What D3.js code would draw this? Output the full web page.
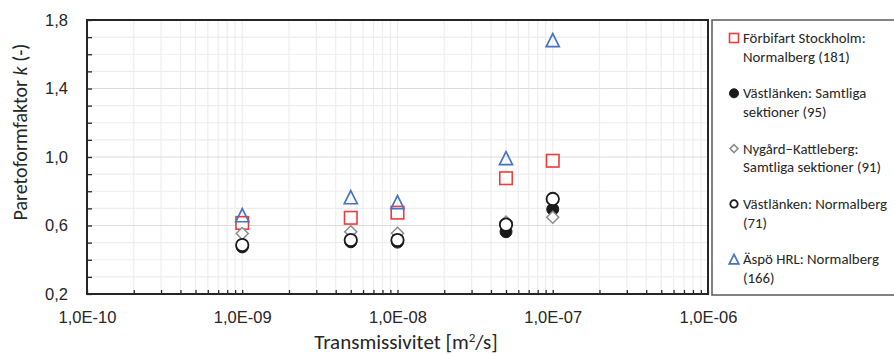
<!DOCTYPE html>
<html>
<head>
<meta charset="utf-8">
<script src="https://cdn.jsdelivr.net/npm/d3@7"></script>
<style>
  html, body { margin: 0; padding: 0; background: #fff; }
  svg { display: block; font-family: Carlito, Calibri, Lato, "Open Sans", sans-serif; }
</style>
</head>
<body>
<svg id="chart" width="894" height="354"></svg>
<script>
// Transmissivity classes (m²/s) and Pareto shape factor k per data set
const transmissivity = [1e-9, 5e-9, 1e-8, 5e-8, 1e-7];
const forbifart      = [0.615, 0.645, 0.675, 0.876, 0.978];
const vastlankenAll  = [0.475, 0.505, 0.503, 0.564, 0.695];
const nygard         = [0.553, 0.563, 0.555, 0.620, 0.648];
const vastlankenNorm = [0.486, 0.515, 0.515, 0.605, 0.755];
const aspo           = [0.660, 0.765, 0.737, 0.993, 1.683];

const seriesNames = [
  ["Förbifart Stockholm:", "Normalberg (181)"],
  ["Västlänken: Samtliga", "sektioner (95)"],
  ["Nygård\u2212Kattleberg:", "Samtliga sektioner (91)"],
  ["Västlänken: Normalberg", "(71)"],
  ["Äspö HRL: Normalberg", "(166)"]
];

const xTickValues = [1e-10, 1e-9, 1e-8, 1e-7, 1e-6];
const xTickLabels = ["1,0E-10", "1,0E-09", "1,0E-08", "1,0E-07", "1,0E-06"];
const yTickValues = [0.2, 0.6, 1.0, 1.4, 1.8];
const yTickLabels = ["0,2", "0,6", "1,0", "1,4", "1,8"];

const svg = d3.select("#chart");
const plot = { left: 87, right: 708, top: 20, bottom: 294 };

const x = d3.scaleLog().domain([1e-10, 1e-6]).range([plot.left, plot.right]);
const y = d3.scaleLinear().domain([0.2, 1.8]).range([plot.bottom, plot.top]);

// minor log positions 1..9 × each decade
const xMinor = [];
for (let e = -10; e < -6; e++) for (let m = 1; m <= 9; m++) xMinor.push(m * Math.pow(10, e));
xMinor.push(1e-6);
const yMinor = d3.range(2, 19).map(v => v / 10);

// gridlines
const grid = svg.append("g");
grid.selectAll("line.v").data(xMinor).join("line")
  .attr("x1", d => x(d)).attr("x2", d => x(d))
  .attr("y1", plot.top).attr("y2", plot.bottom)
  .attr("stroke", "#eeeeee").attr("stroke-width", 1.2);
grid.selectAll("line.h").data(yMinor).join("line")
  .attr("x1", plot.left).attr("x2", plot.right)
  .attr("y1", d => y(d)).attr("y2", d => y(d))
  .attr("stroke", d => yTickValues.some(t => Math.abs(t - d) < 1e-9) ? "#dcdcdc" : "#ededed")
  .attr("stroke-width", 1.2);

// axes (ticks point inward)
const xAxis = d3.axisBottom(x).tickValues(xMinor).tickSizeInner(-4).tickSizeOuter(0)
  .tickPadding(17)
  .tickFormat(d => { const i = xTickValues.findIndex(t => Math.abs(t - d) / t < 1e-6); return i >= 0 ? xTickLabels[i] : ""; });
const gx = svg.append("g").attr("transform", `translate(0,${plot.bottom})`).call(xAxis);
gx.select(".domain").remove();
gx.selectAll(".tick line").attr("stroke", "#262626").attr("stroke-width", 1.3);
gx.selectAll("text").attr("font-size", 16.5).attr("fill", "#262626").attr("font-family", null);

const yAxis = d3.axisLeft(y).tickValues(yMinor).tickSizeInner(-5).tickSizeOuter(0)
  .tickPadding(19)
  .tickFormat(d => { const i = yTickValues.findIndex(t => Math.abs(t - d) < 1e-9); return i >= 0 ? yTickLabels[i] : ""; });
const gy = svg.append("g").attr("transform", `translate(${plot.left},0)`).call(yAxis);
gy.select(".domain").remove();
gy.selectAll(".tick line").attr("stroke", "#262626").attr("stroke-width", 1.3);
gy.selectAll("text").attr("font-size", 16.5).attr("fill", "#262626").attr("font-family", null);

// plot frame
svg.append("rect")
  .attr("x", plot.left).attr("y", plot.top)
  .attr("width", plot.right - plot.left).attr("height", plot.bottom - plot.top)
  .attr("fill", "none").attr("stroke", "#262626").attr("stroke-width", 2);

// marker shapes
function marker(sel, kind, size) {
  const s = size;
  if (kind === "square") {
    sel.append("rect").attr("x", -s / 2).attr("y", -s / 2).attr("width", s).attr("height", s)
      .attr("fill", "#fff").attr("stroke", "#ee3b3b").attr("stroke-width", 1.6);
  } else if (kind === "dot") {
    sel.append("circle").attr("r", s / 2).attr("fill", "#1a1a1a").attr("stroke", "#1a1a1a").attr("stroke-width", 1);
  } else if (kind === "diamond") {
    const h = s / 2;
    sel.append("path").attr("d", `M0,${-h}L${h},0L0,${h}L${-h},0Z`)
      .attr("fill", "#fff").attr("stroke", "#8c8c8c").attr("stroke-width", 1.5);
  } else if (kind === "ring") {
    sel.append("circle").attr("r", s / 2 - 0.8).attr("fill", "#fff").attr("stroke", "#1a1a1a").attr("stroke-width", 1.8);
  } else if (kind === "triangle") {
    const h = s / 2;
    sel.append("path").attr("d", `M0,${-h}L${h},${h}L${-h},${h}Z`)
      .attr("fill", "none").attr("stroke", "#4472c4").attr("stroke-width", 1.7);
  }
}

const series = [
  { values: forbifart, kind: "square", size: 12.5 },
  { values: vastlankenAll, kind: "dot", size: 12 },
  { values: nygard, kind: "diamond", size: 12 },
  { values: vastlankenNorm, kind: "ring", size: 14 },
  { values: aspo, kind: "triangle", size: 13 }
];

series.forEach(s => {
  svg.append("g").selectAll("g").data(s.values).join("g")
    .attr("transform", (d, i) => `translate(${x(transmissivity[i])},${y(d)})`)
    .each(function () { marker(d3.select(this), s.kind, s.size); });
});

// axis titles
svg.append("text")
  .attr("x", 406).attr("y", 349)
  .attr("text-anchor", "middle").attr("font-size", 21).attr("fill", "#262626")
  .html("Transmissivitet [m<tspan baseline-shift='super' font-size='13'>2</tspan>/s]");

svg.append("text")
  .attr("transform", "translate(27,132) rotate(-90)")
  .attr("text-anchor", "middle").attr("font-size", 20).attr("fill", "#262626")
  .html("Paretoformfaktor <tspan font-style='italic'>k</tspan> (-)");

// legend
const legend = svg.append("g");
legend.append("rect")
  .attr("x", 712).attr("y", 20).attr("width", 200).attr("height", 275)
  .attr("fill", "#fff").attr("stroke", "#595959").attr("stroke-width", 1.5);

const legendKinds = ["square", "dot", "diamond", "ring", "triangle"];
const legendSizes = [9, 9, 8, 9, 9.5];
const legendTop = 38, entryGap = 55.3, lineGap = 18.7;
seriesNames.forEach((lines, i) => {
  const cy = legendTop + i * entryGap;
  const g = legend.append("g").attr("transform", `translate(734,${cy})`);
  marker(g, legendKinds[i], legendSizes[i]);
  lines.forEach((t, j) => {
    legend.append("text")
      .attr("x", 743).attr("y", cy + j * lineGap).attr("dy", "0.35em")
      .attr("font-size", 14.8).attr("fill", "#262626").text(t);
  });
});
</script>
</body>
</html>
